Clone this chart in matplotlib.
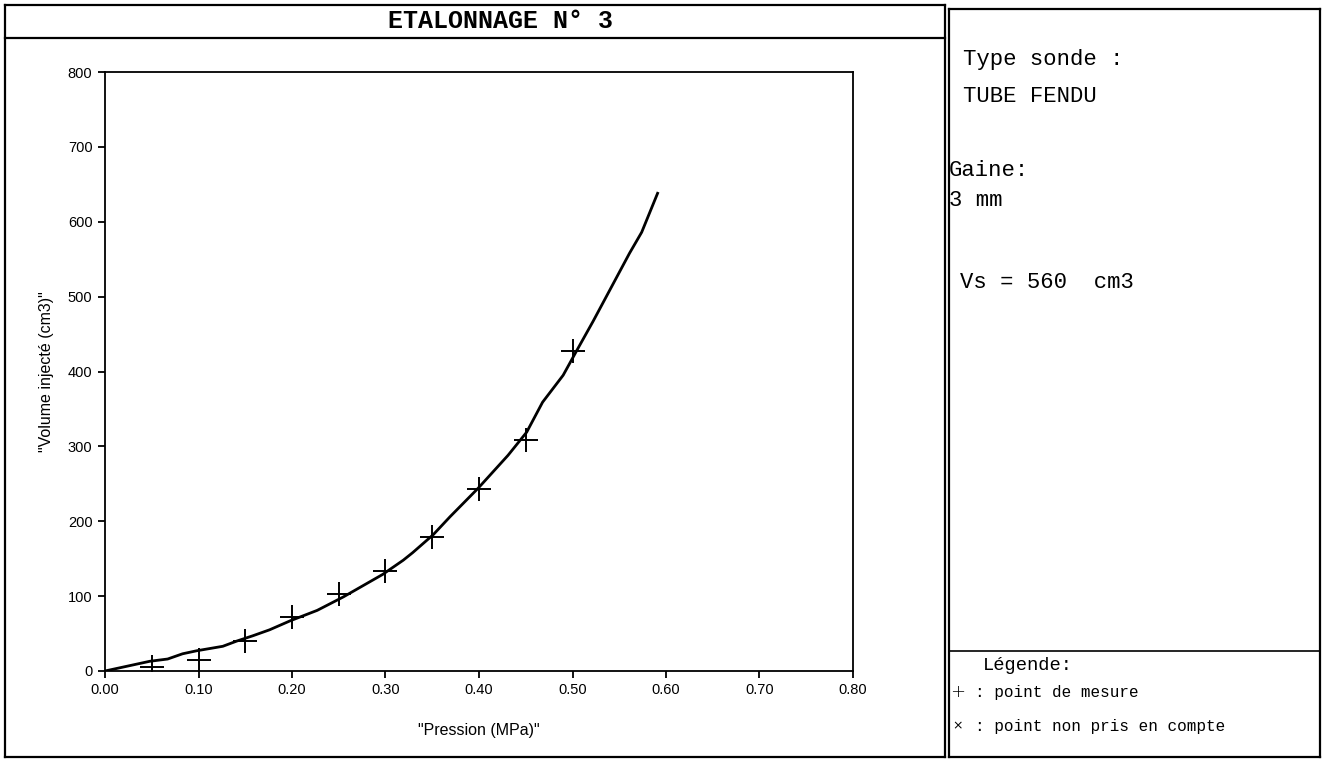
import matplotlib
matplotlib.use("Agg")
import matplotlib.pyplot as plt
from matplotlib.lines import Line2D

W, H = 1326, 763

# measured points (+)
pression_mesure = [0.05, 0.10, 0.15, 0.20, 0.25, 0.30, 0.35, 0.40, 0.45, 0.50]
volume_mesure = [5, 15, 40, 72, 103, 133, 179, 243, 308, 428]

# calibration curve
pression_courbe = [0.0, 0.048, 0.067, 0.083, 0.098, 0.126, 0.141, 0.158, 0.176,
                   0.198, 0.227, 0.255, 0.283, 0.297, 0.319, 0.329, 0.351, 0.369,
                   0.399, 0.415, 0.431, 0.451, 0.468, 0.490, 0.505, 0.522, 0.540,
                   0.561, 0.574, 0.591]
volume_courbe = [0, 13, 16, 23, 27, 33, 40, 47, 55, 67, 81, 99, 119, 129, 148,
                 158, 182, 206, 244, 266, 288, 319, 359, 395, 429, 467, 509,
                 558, 586, 638]

x_ticks = [0.0, 0.1, 0.2, 0.3, 0.4, 0.5, 0.6, 0.7, 0.8]
x_labels = ["0.00", "0.10", "0.20", "0.30", "0.40", "0.50", "0.60", "0.70", "0.80"]
y_ticks = [0, 100, 200, 300, 400, 500, 600, 700, 800]


def fx(px):
    return px / W


def fy(py):
    return 1 - py / H


def hline(fig, x0, x1, y, lw=1.6):
    fig.add_artist(Line2D([fx(x0), fx(x1)], [fy(y), fy(y)], color="black", lw=lw))


def vline(fig, x, y0, y1, lw=1.6):
    fig.add_artist(Line2D([fx(x), fx(x)], [fy(y0), fy(y1)], color="black", lw=lw))


fig = plt.figure(figsize=(W / 100, H / 100), dpi=100)

# frames
hline(fig, 5, 945, 5)
hline(fig, 5, 945, 38)
hline(fig, 5, 945, 757)
vline(fig, 5, 5, 757)
vline(fig, 945, 5, 757)
hline(fig, 949, 1320, 9)
hline(fig, 949, 1320, 651, lw=1.2)
hline(fig, 949, 1320, 757)
vline(fig, 949, 9, 757)
vline(fig, 1320, 9, 757)

fig.text(fx(501), fy(21), "ETALONNAGE N° 3", ha="center", va="center",
         family="Liberation Mono", fontweight="bold", fontsize=18)

mono = dict(family="Liberation Mono", fontsize=16, va="center", ha="left")
fig.text(fx(963), fy(60), "Type sonde :", **mono)
fig.text(fx(963), fy(97), "TUBE FENDU", **mono)
fig.text(fx(949), fy(170), "Gaine:", **mono)
fig.text(fx(949), fy(200), "3 mm", **mono)
fig.text(fx(960), fy(282), "Vs = 560  cm3", **mono)
fig.text(fx(983), fy(666), "Légende:", family="Liberation Mono", fontsize=13.5,
         va="center", ha="left")
fig.text(fx(958), fy(692), "+", family="DejaVu Sans", fontsize=13,
         va="center", ha="center", fontweight="light")
fig.text(fx(958), fy(726), "×", family="DejaVu Sans", fontsize=9,
         va="center", ha="center")
small = dict(family="Liberation Mono", fontsize=11.5, va="center", ha="left")
fig.text(fx(975), fy(693), ": point de mesure", **small)
fig.text(fx(975), fy(727), ": point non pris en compte", **small)

# chart
ax = fig.add_axes([fx(105), fy(671), (853 - 105) / W, (671 - 72) / H])
ax.plot(pression_courbe, volume_courbe, color="black", lw=2.0)
ax.plot(pression_mesure, volume_mesure, ls="none", marker="+", ms=17,
        mew=1.4, color="black")
ax.set_xlim(0, 0.8)
ax.set_ylim(0, 800)
ax.set_xticks(x_ticks)
ax.set_xticklabels(x_labels)
ax.set_yticks(y_ticks)
for s in ax.spines.values():
    s.set_linewidth(1.3)
ax.tick_params(direction="out", length=5, width=1.3, labelsize=10.5, pad=4)
for lab in ax.get_xticklabels() + ax.get_yticklabels():
    lab.set_family("Liberation Sans")
ax.set_xlabel('"Pression (MPa)"', family="Liberation Sans", fontsize=11.5, labelpad=18)
ax.set_ylabel('"Volume injecté (cm3)"', family="Liberation Sans", fontsize=11.5, labelpad=10)

fig.savefig("out.png", dpi=100)
